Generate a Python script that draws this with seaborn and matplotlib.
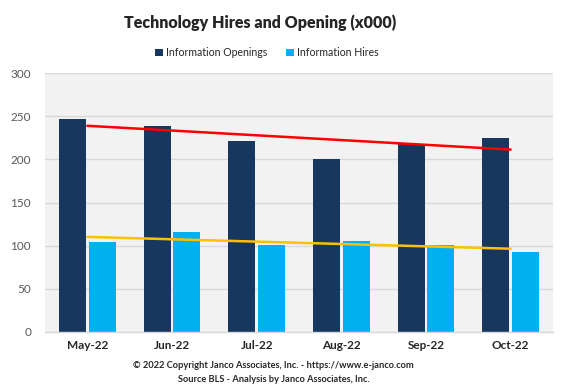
"""Technology hires and openings chart."""

import matplotlib
matplotlib.use("Agg")
import matplotlib.pyplot as plt
import numpy as np
import pandas as pd
import seaborn as sns

MONTHS = ["May-22", "Jun-22", "Jul-22", "Aug-22", "Sep-22", "Oct-22"]
OPENINGS = [247, 239, 221, 201, 218, 225]
HIRES = [104, 116, 101, 105, 101, 93]
SERIES = ["Information Openings", "Information Hires"]
COLORS = ["#17375E", "#00B0F0"]

sns.set_theme(style="white")
plt.rcParams["font.family"] = ["Lato", "DejaVu Sans"]

data = pd.DataFrame({
    "Month": MONTHS * 2,
    "Value": OPENINGS + HIRES,
    "Series": [SERIES[0]] * len(MONTHS) + [SERIES[1]] * len(MONTHS),
})

fig = plt.figure(figsize=(5.7, 3.91), dpi=100)
ax = fig.add_axes([0.079, 0.151, 0.891, 0.662])
ax.set_facecolor("#F2F2F2")

sns.barplot(data=data, x="Month", y="Value", hue="Series",
            palette=COLORS, width=0.70, gap=0.09, saturation=1,
            linewidth=0, edgecolor="none",
            order=MONTHS, hue_order=SERIES, ax=ax, zorder=2)
for p in ax.patches:
    p.set_linewidth(0)
    p.set_antialiased(False)

# linear trend lines
xs = np.arange(len(MONTHS))
for vals, col in [(OPENINGS, "#FF0000"), (HIRES, "#FFC000")]:
    k, b = np.polyfit(xs, vals, 1)
    ax.plot(xs, k * xs + b, color=col, lw=1.8, zorder=3)

ax.set_ylim(0, 300)
ax.set_xlim(-0.5, len(MONTHS) - 0.5)
ax.set_yticks(range(0, 301, 50))
ax.yaxis.grid(True, color="#D9D9D9", lw=1, zorder=0)
ax.set_axisbelow(True)
ax.set_xlabel("")
ax.set_ylabel("")
for s in ["left", "right", "top"]:
    ax.spines[s].set_visible(False)
ax.spines["bottom"].set_color("#D9D9D9")
ax.spines["bottom"].set_linewidth(1)

ax.tick_params(axis="y", length=0, pad=10, labelsize=8.5, labelcolor="#595959")
ax.tick_params(axis="x", which="major", length=0, pad=6, labelsize=8.5)
ax.set_xticks(np.arange(-0.5, len(MONTHS), 1), minor=True)
ax.tick_params(axis="x", which="minor", length=5, color="#D9D9D9", width=1)
for lab in ax.get_xticklabels():
    lab.set_fontweight("bold")

ax.legend(loc="lower center", bbox_to_anchor=(0.437, 1.02), ncol=2,
          frameon=False, fontsize=7.6, handlelength=0.7, handleheight=0.7,
          handletextpad=0.3, columnspacing=1.8)

fig.text(0.456, 0.942, "Technology Hires and Opening (x000)", ha="center",
         va="center", fontsize=11.5, fontweight="heavy")
fig.text(0.48, 0.064, "\u00a9 2022 Copyright Janco Associates, Inc. - https://www.e-janco.com",
         ha="center", va="center", fontsize=6.7, fontweight="bold")
fig.text(0.48, 0.030, "Source BLS - Analysis by Janco Associates, Inc.",
         ha="center", va="center", fontsize=6.7, fontweight="bold")

fig.savefig("out.png", dpi=100)
